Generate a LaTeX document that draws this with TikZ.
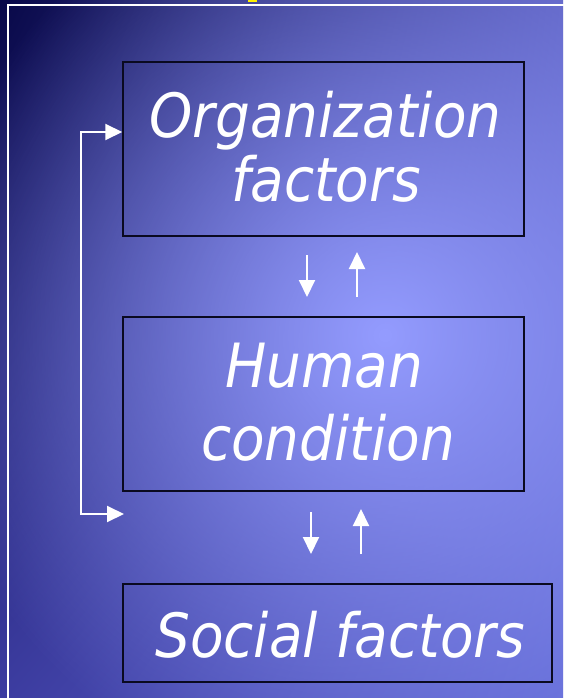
\documentclass[tikz,border=0pt]{standalone}
\usepackage{fontspec}
\newfontfamily\tfont[FakeStretch=0.9]{DejaVu Sans}
\usetikzlibrary{arrows.meta,fadings,shadings}
\definecolor{bgTL}{HTML}{080848}
\definecolor{bgTR}{HTML}{5C60C0}
\definecolor{bgBL}{HTML}{3C3CA0}
\definecolor{bgBR}{HTML}{646CD6}
\definecolor{glowc}{HTML}{949CFF}
\definecolor{boxline}{HTML}{0A0A20}
\definecolor{marky}{HTML}{FFF000}
\tikzfading[name=glowfade, inner color=transparent!0, outer color=transparent!100]
\tikzset{
  boxst/.style={draw=boxline, line width=1.5pt, rectangle, inner sep=0pt},
  lbl/.style={anchor=base, text=white, inner sep=0pt, font=\tfont\itshape\fontsize{61}{64}\selectfont},
  arr/.style={white, line width=2pt, -{Triangle[length=17pt,width=16pt]}},
  arrb/.style={white, line width=2pt, {Triangle[length=17pt,width=16pt]}-{Triangle[length=17pt,width=16pt]}}
}
\begin{document}
\begin{tikzpicture}[x=1pt,y=-1pt]
\useasboundingbox (0,0) rectangle (563,698);
% background
\begin{scope}
\clip (0,0) rectangle (563,698);
\shade[upper left=bgTL, upper right=bgTR, lower left=bgBL, lower right=bgBR] (0,0) rectangle (563,698);
\fill[glowc, path fading=glowfade] (385,335) circle (470);
\end{scope}
% frame and mark
\draw[white, line width=1.5pt] (8,5) rectangle (600,740);
\fill[marky] (248,0) rectangle (257,2.5);
% boxes
\node[boxst, minimum width=401pt, minimum height=174pt] (org) at (323.5,149) {};
\node[boxst, minimum width=401pt, minimum height=174pt] (hum) at (323.5,404) {};
\node[boxst, minimum width=429pt, minimum height=98pt] (soc) at (337.5,633) {};
% texts
\node[lbl] (t1) at (325.5,137) {Organization};
\node[lbl] (t2) at (326,201) {factors};
\node[lbl] (t3) at (324,387) {Human};
\node[lbl] (t4) at (328,460) {condition};
\node[lbl] (t5) at (340,657) {Social factors};
% small arrows
\coordinate (d1s) at (307,255); \coordinate (d1e) at (307,297);
\coordinate (u1s) at (357,297); \coordinate (u1e) at (357,252);
\coordinate (d2s) at (311,512); \coordinate (d2e) at (311,554);
\coordinate (u2s) at (361,554); \coordinate (u2e) at (361,509);
\draw[arr] (d1s) -- (d1e);
\draw[arr] (u1s) -- (u1e);
\draw[arr] (d2s) -- (d2e);
\draw[arr] (u2s) -- (u2e);
% feedback arrow
\coordinate (fbtop) at (81,132);
\coordinate (fbbot) at (81,514);
\coordinate (fbend) at (124,514);
\draw[arrb] (fbend) -- (fbbot) -- (fbtop) -- (org.west |- fbtop);
\end{tikzpicture}
\end{document}
